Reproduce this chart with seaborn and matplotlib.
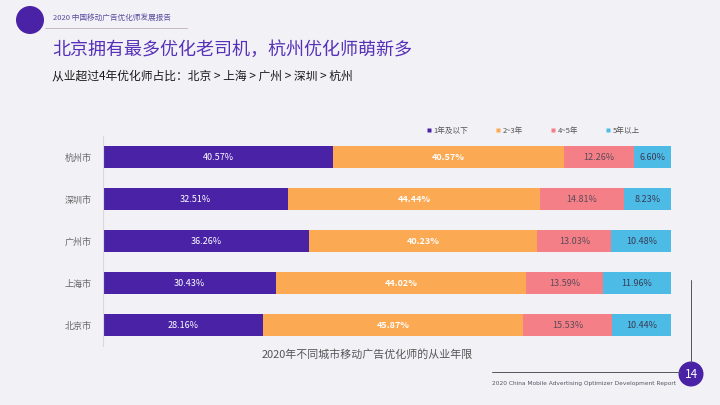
import matplotlib
matplotlib.use("Agg")
import matplotlib.pyplot as plt
import seaborn as sns
import pandas as pd
import numpy as np
from matplotlib.patches import Ellipse
from matplotlib.lines import Line2D

cities = ['杭州市', '深圳市', '广州市', '上海市', '北京市']
series_names = ['1年及以下', '2~3年', '4~5年', '5年以上']
v_1 = [40.57, 32.51, 36.26, 30.43, 28.16]
v_23 = [40.57, 44.44, 40.23, 44.02, 45.87]
v_45 = [12.26, 14.81, 13.03, 13.59, 15.53]
v_5 = [6.60, 8.23, 10.48, 11.96, 10.44]

colors = ['#4A22A6', '#FBA952', '#F47F86', '#4CBCE6']
label_colors = ['white', 'white', '#5A4A5A', '#3A3A55']

sns.set_theme(style='white')
plt.rcParams['font.family'] = ['Noto Sans CJK SC', 'DejaVu Sans']

bg = '#F2F2F6'
fig = plt.figure(figsize=(7.2, 4.05), dpi=100, facecolor=bg)
ax = fig.add_axes([103/720, 1-346/405, 568/720, 210/405])
ax.set_facecolor('none')

vals = [v_1, v_23, v_45, v_5]
cum = np.zeros(len(cities))
cums = []
for v in vals:
    cum = cum + np.array(v)
    cums.append(cum.copy())

# draw back-to-front so stacked segments show
for i in range(3, -1, -1):
    d = pd.DataFrame({'city': cities, 'val': cums[i]})
    sns.barplot(data=d, x='val', y='city', order=cities, orient='h',
                color=colors[i], width=0.52, ax=ax, saturation=1,
                edgecolor='none', linewidth=0)

# labels
for j, c in enumerate(cities):
    start = 0
    for i, v in enumerate(vals):
        ax.text(start + v[j]/2, j, f'{v[j]:.2f}%', ha='center', va='center',
                fontsize=6.5, color=label_colors[i],
                fontweight='bold' if i == 1 else 'normal')
        start += v[j]

ax.set_xlim(0, 100)
ax.set_ylim(4.5, -0.5)
ax.set_xlabel('')
ax.set_ylabel('')
ax.set_xticks([])
for s in ['top', 'right', 'bottom']:
    ax.spines[s].set_visible(False)
ax.spines['left'].set_color('#D8D8DE')
ax.spines['left'].set_linewidth(0.8)
ax.tick_params(axis='y', length=0, pad=8, labelsize=6.5, labelcolor='#666666')

# legend
handles = [Line2D([], [], marker='s', linestyle='none', markersize=3.5,
                  markerfacecolor=colors[i], markeredgecolor='none', label=series_names[i])
           for i in range(4)]
fig.legend(handles=handles, loc='center left', bbox_to_anchor=(427/720, 1-131/405),
           ncol=4, frameon=False, fontsize=5.5, handlelength=0.6, handletextpad=0.3,
           columnspacing=3.6, borderaxespad=0, borderpad=0, labelcolor='#555555')

# header
fig.patches.append(Ellipse((30/720, 1-20/405), 28/720, 28/405, transform=fig.transFigure,
                           facecolor='#4A22A6', edgecolor='none'))
fig.text(53/720, 1-19/405, '2020 中国移动广告优化师发展报告', fontsize=5.5,
         color='#5A4AA0', va='center', ha='left')
fig.add_artist(Line2D([45/720, 187/720], [1-28/405, 1-28/405], transform=fig.transFigure,
                      color='#C8B8C0', linewidth=0.7))
fig.text(52/720, 1-50/405, '北京拥有最多优化老司机，杭州优化师萌新多', fontsize=13,
         color='#5630B8', va='center', ha='left', fontweight='medium')
fig.text(52/720, 1-76/405, '从业超过4年优化师占比：北京 > 上海 > 广州 > 深圳 > 杭州', fontsize=8.5,
         color='#1A1A1A', va='center', ha='left', fontweight='medium')

# caption
fig.text(367/720, 1-354/405, '2020年不同城市移动广告优化师的从业年限', fontsize=7.9,
         color='#555555', va='center', ha='center')

# footer
fig.add_artist(Line2D([492/720, 680/720], [1-372/405, 1-372/405], transform=fig.transFigure,
                      color='#555560', linewidth=0.7))
fig.add_artist(Line2D([691/720, 691/720], [1-280/405, 1-362/405], transform=fig.transFigure,
                      color='#555560', linewidth=0.7))
fig.patches.append(Ellipse((691/720, 1-374/405), 25/720, 25/405, transform=fig.transFigure,
                           facecolor='#4A22A6', edgecolor='none'))
fig.text(691/720, 1-374/405, '14', fontsize=8.5, color='white', va='center', ha='center')
fig.text(492/720, 1-384/405, '2020 China Mobile Advertising Optimizer Development Report',
         fontsize=4.2, color='#555566', va='center', ha='left', family=['DejaVu Sans'])

fig.savefig('out.png', dpi=100, facecolor=bg)
